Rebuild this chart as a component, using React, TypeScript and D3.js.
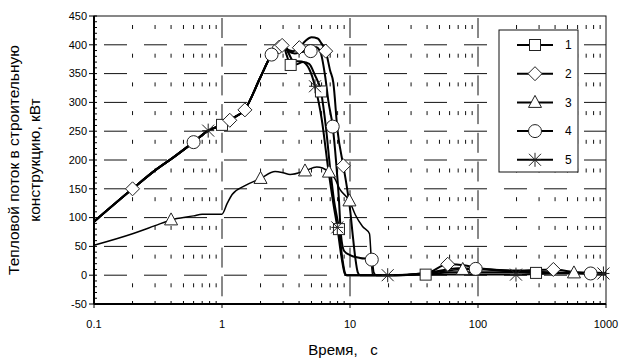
import * as d3 from "d3";

// log time axis (s) and heat flux into the structure (kW)
const xTicks = [0.1, 1, 10, 100, 1000];
const yTicks = [-50, 0, 50, 100, 150, 200, 250, 300, 350, 400, 450];
const legendLabels = ["1", "2", "3", "4", "5"];

// rising part shared by curves 1, 2, 4, 5
const rise: [number, number][] = [
  [0.1, 93], [0.2, 150], [0.3, 182], [0.42, 205], [0.6, 231], [0.78, 251],
  [1.0, 261], [1.2, 272], [1.5, 287], [2.0, 344], [2.44, 383], [2.8, 396], [3.0, 399],
];

const line1: [number, number][] = [
  ...rise, [3.2, 382], [3.44, 365], [3.8, 366], [4.3, 370], [4.8, 367], [5.3, 348],
  [5.93, 319], [6.5, 255], [7.0, 185], [7.5, 130], [8.2, 80], [8.7, 30], [9.2, 2],
  [9.5, 0], [20, 0], [39, 1], [60, 5], [100, 5], [200, 5], [284, 4], [500, 4], [1000, 3],
];
const line2: [number, number][] = [
  ...rise, [3.3, 391], [3.6, 389], [4.02, 395], [4.5, 407], [5.0, 413], [5.6, 411],
  [6.0, 402], [6.46, 389], [7.0, 355], [7.4, 335], [8.0, 250], [8.87, 190], [9.5, 150],
  [10.0, 115], [10.5, 70], [11.0, 30], [11.5, 5], [12, 0], [20, 0], [40, 4], [58, 19],
  [80, 17], [100, 12], [200, 8], [388, 10], [600, 5], [1000, 4],
];
const line3: [number, number][] = [
  [0.1, 52], [0.2, 72], [0.3, 86], [0.4, 96], [0.6, 103], [0.7, 106], [1.0, 106],
  [1.1, 125], [1.2, 140], [1.5, 155], [2.0, 168], [2.6, 180], [3.0, 178], [3.4, 175],
  [4.45, 181], [5.5, 188], [6.1, 186], [6.85, 179], [7.6, 168], [8.3, 150], [9.9, 129],
  [11, 105], [12.5, 85], [14.2, 72], [14.6, 35], [15, 0], [20, 0], [40, 3], [76, 10],
  [100, 10], [200, 6], [562, 4], [1000, 3],
];
const line4: [number, number][] = [
  ...rise, [3.3, 389], [3.7, 385], [4.3, 388], [4.93, 389], [5.4, 396], [5.9, 386],
  [6.4, 345], [6.8, 300], [7.33, 258], [7.8, 195], [8.2, 130], [8.5, 70], [9.0, 42],
  [10, 35], [12, 30], [14.8, 27], [15.3, 5], [16, 0], [20, 0], [40, 4], [70, 12],
  [96, 11], [200, 7], [400, 5], [759, 3], [1000, 3],
];
const line5: [number, number][] = [
  ...rise, [3.3, 386], [3.6, 372], [4.2, 371], [4.8, 358], [5.33, 328], [6.0, 272],
  [6.8, 180], [7.4, 125], [7.96, 83], [8.6, 30], [9.1, 3], [9.4, 0], [19.7, 0],
  [40, 1], [100, 1], [198, 1], [400, 3], [955, 3], [1000, 3],
];

// marker positions
const marks1: [number, number][] = [[1.0, 261], [3.44, 365], [5.93, 319], [8.2, 80], [39, 1], [284, 4]];
const marks2: [number, number][] = [
  [0.2, 150], [1.15, 269], [1.51, 287], [2.8, 396], [2.95, 399], [4.02, 395],
  [6.46, 389], [8.87, 190], [58, 19], [388, 10],
];
const marks3: [number, number][] = [[0.4, 96], [2.0, 168], [4.45, 181], [6.85, 179], [9.9, 129], [76, 10], [562, 4]];
const marks4: [number, number][] = [[0.6, 231], [2.44, 383], [4.93, 389], [7.33, 258], [14.8, 27], [96, 11], [759, 3]];
const marks5: [number, number][] = [[0.78, 251], [5.33, 328], [7.96, 83], [19.7, 0], [198, 1], [955, 3]];

const series = [
  { line: line1, marks: marks1, shape: "square", width: 2 },
  { line: line2, marks: marks2, shape: "diamond", width: 2 },
  { line: line3, marks: marks3, shape: "triangle", width: 1.5 },
  { line: line4, marks: marks4, shape: "circle", width: 2 },
  { line: line5, marks: marks5, shape: "star", width: 2 },
];

const Marker = ({ shape, x, y }: { shape: string; x: number; y: number }) => {
  const st = { fill: "white", stroke: "#222", strokeWidth: 1 };
  if (shape === "square") return <rect x={x - 5.5} y={y - 5.5} width={11} height={11} {...st} />;
  if (shape === "diamond")
    return <path d={`M${x},${y - 7}L${x + 7},${y}L${x},${y + 7}L${x - 7},${y}Z`} {...st} />;
  if (shape === "triangle")
    return <path d={`M${x},${y - 7}L${x + 6.5},${y + 5}L${x - 6.5},${y + 5}Z`} {...st} />;
  if (shape === "circle") return <circle cx={x} cy={y} r={6.5} {...st} />;
  // star: asterisk
  return (
    <path
      d={`M${x},${y - 7}V${y + 7}M${x - 6},${y - 6}L${x + 6},${y + 6}M${x - 6},${y + 6}L${x + 6},${y - 6}M${x - 6},${y}H${x + 6}`}
      stroke="#222"
      strokeWidth={1}
      fill="none"
    />
  );
};

export default function App() {
  const width = 620;
  const height = 360;
  const left = 94, right = 606, top = 16, bottom = 304;

  const x = d3.scaleLog().domain([0.1, 1000]).range([left, right]);
  const y = d3.scaleLinear().domain([-50, 450]).range([bottom, top]);

  const line = d3
    .line<[number, number]>()
    .x((d) => x(d[0]))
    .y((d) => y(d[1]))
    .curve(d3.curveMonotoneX);

  // minor log ticks 2..9 in each decade
  const minor: number[] = [];
  for (let e = -1; e < 3; e++) for (let m = 2; m <= 9; m++) minor.push(m * Math.pow(10, e));
  const yMinor = d3.range(-50, 451, 10);

  const font = "Liberation Sans, Arial, sans-serif";

  return (
    <svg width={width} height={height} style={{ position: "absolute", left: 0, top: 0 }} fontFamily={font}>
      <rect width={width} height={height} fill="white" />

      {/* grid */}
      {yTicks.slice(1, -1).map((t) => (
        <line key={"gy" + t} x1={left} x2={right} y1={y(t)} y2={y(t)} stroke="#111" strokeWidth={1} strokeDasharray="23,17" strokeDashoffset={-10} />
      ))}
      {minor.map((t) => (
        <line key={"gm" + t} x1={x(t)} x2={x(t)} y1={top} y2={bottom} stroke="#111" strokeWidth={1} strokeDasharray="4,24.7" strokeDashoffset={-9} />
      ))}
      {xTicks.slice(1, -1).map((t) => (
        <line key={"gx" + t} x1={x(t)} x2={x(t)} y1={top} y2={bottom} stroke="#111" strokeWidth={1} strokeDasharray="20,8.7" strokeDashoffset={-2} />
      ))}

      {/* frame */}
      <rect x={left} y={top} width={right - left} height={bottom - top} fill="none" stroke="#111" strokeWidth={1} />
      <line x1={left} x2={left} y1={top} y2={bottom} stroke="#000" strokeWidth={2} />
      <line x1={left} x2={right} y1={bottom} y2={bottom} stroke="#000" strokeWidth={2} />

      {/* axis ticks */}
      {yMinor.map((t) => (
        <line key={"ym" + t} x1={left} x2={left + 3} y1={y(t)} y2={y(t)} stroke="#000" />
      ))}
      {yTicks.map((t) => (
        <line key={"yt" + t} x1={left - 5} x2={left} y1={y(t)} y2={y(t)} stroke="#000" />
      ))}
      {minor.map((t) => (
        <line key={"xm" + t} x1={x(t)} x2={x(t)} y1={bottom} y2={bottom - 3} stroke="#000" />
      ))}
      {xTicks.map((t) => (
        <line key={"xt" + t} x1={x(t)} x2={x(t)} y1={bottom} y2={bottom + 4} stroke="#000" />
      ))}

      {yTicks.map((t) => (
        <text key={"yl" + t} x={left - 7} y={y(t)} dy="0.35em" textAnchor="end" fontSize={11}>
          {t}
        </text>
      ))}
      {xTicks.map((t) => (
        <text key={"xl" + t} x={x(t)} y={328} textAnchor="middle" fontSize={11}>
          {t}
        </text>
      ))}

      {/* series */}
      {series.map((s, i) => (
        <path key={"l" + i} d={line(s.line) ?? ""} fill="none" stroke="#000" strokeWidth={s.width} />
      ))}
      {series.map((s, i) =>
        s.marks.map((m, j) => <Marker key={"m" + i + "-" + j} shape={s.shape} x={x(m[0])} y={y(m[1])} />)
      )}

      {/* legend */}
      <rect x={499} y={30} width={79} height={142} fill="white" stroke="#111" strokeWidth={1} />
      {series.map((s, i) => {
        const ly = 45 + i * 28.7;
        return (
          <g key={"lg" + i}>
            <line x1={517} x2={553} y1={ly} y2={ly} stroke="#000" strokeWidth={2} />
            <Marker shape={s.shape} x={535} y={ly} />
            <text x={565} y={ly} dy="0.35em" fontSize={12}>
              {legendLabels[i]}
            </text>
          </g>
        );
      })}

      {/* titles */}
      <text x={343} y={355} textAnchor="middle" fontSize={15} xmlSpace="preserve">
        Время,   с
      </text>
      <text transform="translate(19,160) rotate(-90)" textAnchor="middle" fontSize={15.5}>
        Тепловой поток в строительную
      </text>
      <text transform="translate(40,160) rotate(-90)" textAnchor="middle" fontSize={15.5}>
        конструкцию, кВт
      </text>
    </svg>
  );
}
